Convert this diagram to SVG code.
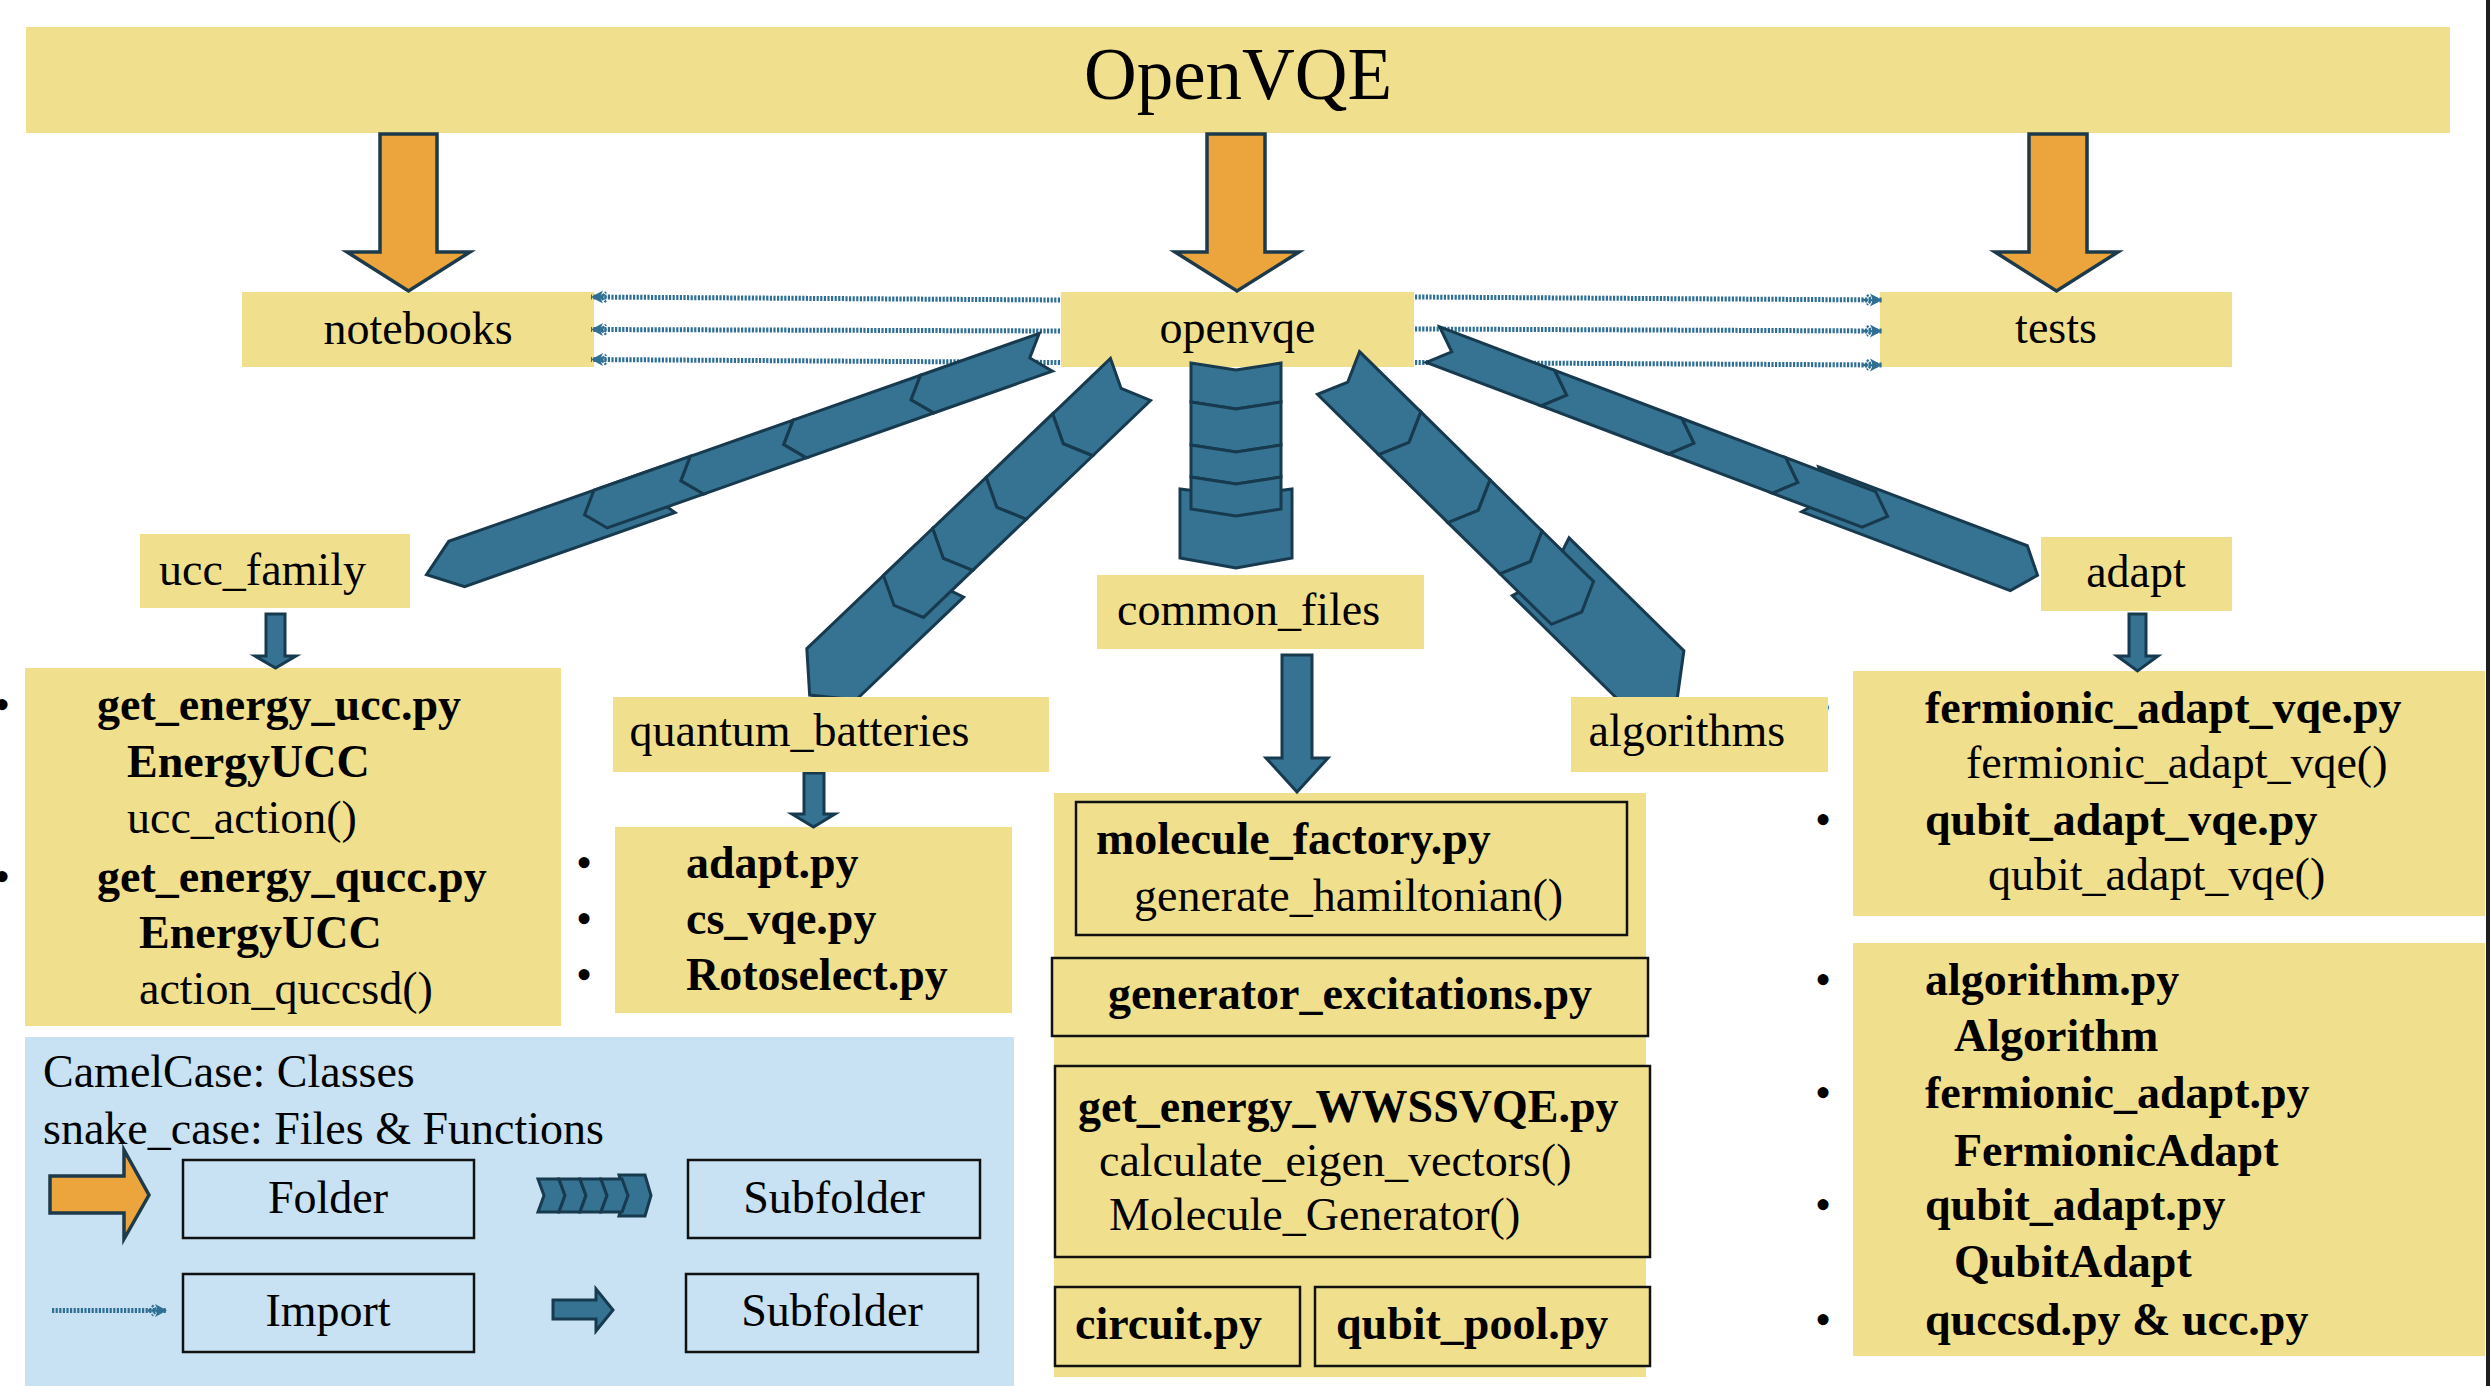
<svg xmlns="http://www.w3.org/2000/svg" width="2490" height="1386" viewBox="0 0 2490 1386">
<style>
.t{font-family:"Liberation Serif","Times New Roman",serif;font-size:46px;fill:#000}
.b{font-weight:bold}
.m{text-anchor:middle}
.k{fill:#F0E08E}
.kb{fill:#F0E08E;stroke:#111;stroke-width:2.5}
.lb{fill:none;stroke:#111;stroke-width:2.5}
.or{fill:#ECA43C;stroke:#1C3A4A;stroke-width:3.5;stroke-linejoin:miter}
.bl{fill:#367292;stroke:#173A4E;stroke-width:3;stroke-linejoin:miter}
.imp{fill:none;stroke:#2F6F94;stroke-width:5;stroke-dasharray:2.2 1.4}
</style>
<defs>
<marker id="ih" viewBox="0 0 20 16" refX="19" refY="8" markerWidth="20" markerHeight="16" markerUnits="userSpaceOnUse" orient="auto">
<path d="M19,8 L7,1.5 L10,8 L7,14.5 Z" fill="#2F6F94"/>
<path d="M0,8 L12,8 M4,3 L9,8 L4,13" fill="none" stroke="#2F6F94" stroke-width="2.5" stroke-dasharray="2 1.2"/>
</marker>
</defs>
<rect x="0" y="0" width="2490" height="1386" fill="#fff"/>
<rect x="2486" y="0" width="4" height="1386" fill="#1e1e1e"/>

<g id="node-openvqe-root">
<rect class="k" x="26" y="27" width="2424" height="106"/>
<text class="t m" x="1238" y="99" style="font-size:73px">OpenVQE</text>
</g>
<g id="node-notebooks">
<rect class="k" x="242" y="292" width="352" height="75"/>
<text class="t m" x="418" y="344">notebooks</text>
</g>
<g id="node-openvqe">
<rect class="k" x="1061" y="292" width="353" height="75"/>
<text class="t m" x="1237.5" y="343">openvqe</text>
</g>
<g id="node-tests">
<rect class="k" x="1880" y="292" width="352" height="75"/>
<text class="t m" x="2056" y="343">tests</text>
</g>

<g id="node-ucc-files">
<rect class="k" x="25" y="668" width="536" height="358"/>
<text class="t" x="2" y="720" text-anchor="middle">•</text>
<text class="t" x="2" y="892" text-anchor="middle">•</text>
<text class="t b" x="97" y="720">get_energy_ucc.py</text>
<text class="t b" x="127" y="777">EnergyUCC</text>
<text class="t" x="127" y="833">ucc_action()</text>
<text class="t b" x="97" y="892">get_energy_qucc.py</text>
<text class="t b" x="139" y="948">EnergyUCC</text>
<text class="t" x="139" y="1004">action_quccsd()</text>
</g>
<g id="node-qb-files">
<rect class="k" x="615" y="827" width="397" height="186"/>
<text class="t m" x="584" y="878">•</text>
<text class="t m" x="584" y="934">•</text>
<text class="t m" x="584" y="990">•</text>
<text class="t b" x="686" y="878">adapt.py</text>
<text class="t b" x="686" y="934">cs_vqe.py</text>
<text class="t b" x="686" y="990">Rotoselect.py</text>
</g>
<g id="node-common-files-content">
<rect class="k" x="1054" y="793" width="592" height="584"/>
<rect class="kb" x="1076" y="802" width="551" height="133"/>
<text class="t b" x="1096" y="854">molecule_factory.py</text>
<text class="t" x="1134" y="911">generate_hamiltonian()</text>
<rect class="kb" x="1052" y="958" width="596" height="78"/>
<text class="t b m" x="1350" y="1009">generator_excitations.py</text>
<rect class="kb" x="1055" y="1066" width="595" height="191"/>
<text class="t b" x="1078" y="1122">get_energy_WWSSVQE.py</text>
<text class="t" x="1099" y="1176">calculate_eigen_vectors()</text>
<text class="t" x="1109" y="1230">Molecule_Generator()</text>
<rect class="kb" x="1055" y="1287" width="245" height="79"/>
<text class="t b" x="1075" y="1339">circuit.py</text>
<rect class="kb" x="1315" y="1287" width="335" height="79"/>
<text class="t b" x="1336" y="1339">qubit_pool.py</text>
</g>
<g id="node-adapt-files">
<rect class="k" x="1853" y="671" width="632" height="245"/>
<text class="t m" x="1823" y="723">•</text>
<text class="t m" x="1823" y="835">•</text>
<text class="t b" x="1925" y="723">fermionic_adapt_vqe.py</text>
<text class="t" x="1966" y="778">fermionic_adapt_vqe()</text>
<text class="t b" x="1925" y="835">qubit_adapt_vqe.py</text>
<text class="t" x="1988" y="890">qubit_adapt_vqe()</text>
</g>
<g id="node-algorithms-files">
<rect class="k" x="1853" y="943" width="632" height="413"/>
<text class="t m" x="1823" y="995">•</text>
<text class="t m" x="1823" y="1108">•</text>
<text class="t m" x="1823" y="1220">•</text>
<text class="t m" x="1823" y="1335">•</text>
<text class="t b" x="1925" y="995">algorithm.py</text>
<text class="t b" x="1954" y="1051">Algorithm</text>
<text class="t b" x="1925" y="1108">fermionic_adapt.py</text>
<text class="t b" x="1954" y="1166">FermionicAdapt</text>
<text class="t b" x="1925" y="1220">qubit_adapt.py</text>
<text class="t b" x="1954" y="1277">QubitAdapt</text>
<text class="t b" x="1925" y="1335">quccsd.py &amp; ucc.py</text>
</g>
<g id="node-legend">
<rect x="25" y="1037" width="989" height="349" fill="#C8E2F3"/>
<text class="t" x="43" y="1087">CamelCase: Classes</text>
<text class="t" x="43" y="1144">snake_case: Files &amp; Functions</text>
<polygon class="or" points="50,1176 124,1176 124,1150 149,1195 124,1239 124,1213 50,1213"/>
<rect class="lb" x="183" y="1160" width="291" height="78"/>
<text class="t m" x="328" y="1213">Folder</text>
<polygon class="bl" points="619,1175 645,1175 651,1195.5 645,1216 619,1216 625,1195.5"/>
<polygon class="bl" points="538,1179 559,1179 565,1195.5 559,1212 538,1212 544,1195.5"/>
<polygon class="bl" points="559,1179 580,1179 586,1195.5 580,1212 559,1212 565,1195.5"/>
<polygon class="bl" points="580,1179 601,1179 607,1195.5 601,1212 580,1212 586,1195.5"/>
<polygon class="bl" points="601,1179 622,1179 628,1195.5 622,1212 601,1212 607,1195.5"/>
<rect class="lb" x="688" y="1160" width="292" height="78"/>
<text class="t m" x="834" y="1213">Subfolder</text>
<path class="imp" d="M52,1310.5 L167,1310.5" marker-end="url(#ih)"/>
<rect class="lb" x="183" y="1274" width="291" height="78"/>
<text class="t m" x="328" y="1326">Import</text>
<polygon class="bl" points="553,1300 596,1300 596,1289 613,1310 596,1331 596,1319 553,1319"/>
<rect class="lb" x="686" y="1274" width="292" height="78"/>
<text class="t m" x="832" y="1326">Subfolder</text>
</g>

<g id="connectors">
<path class="imp" d="M1060,300 L591,297" marker-end="url(#ih)"/>
<path class="imp" d="M1060,331 L591,329.5" marker-end="url(#ih)"/>
<path class="imp" d="M1060,362.5 L591,359.5" marker-end="url(#ih)"/>
<path class="imp" d="M1415,297 L1882,300" marker-end="url(#ih)"/>
<path class="imp" d="M1415,329 L1882,331" marker-end="url(#ih)"/>
<path class="imp" d="M1415,362.5 L1882,365" marker-end="url(#ih)"/>

<polygon class="or" points="380,134 437,134 437,252 470,252 408.5,291 347,252 380,252"/>
<polygon class="or" points="1207,134 1265,134 1265,252 1299,252 1237,291 1175,252 1207,252"/>
<polygon class="or" points="2029,134 2087,134 2087,252 2118,252 2056.5,291 1995,252 2029,252"/>

<g transform="translate(1045.8,352.3) rotate(160.6)">
<polygon class="bl" points="403,-28 626,-28 658,-4 626,20 403,20 420,-4"/>
<polygon class="bl" points="0,-20 126,-20 143,0 126,20 0,20 17,0"/>
<polygon class="bl" points="126,-20 261,-20 278,0 261,20 126,20 143,0"/>
<polygon class="bl" points="261,-20 370,-20 387,0 370,20 261,20 278,0"/>
<polygon class="bl" points="370,-20 472,-20 489,0 472,20 370,20 387,0"/>
</g>
<g transform="translate(1130.5,379.5) rotate(136.3)">
<polygon class="bl" points="271,-42 420,-42 450,-6.5 420,29 271,29 284,-6.5"/>
<polygon class="bl" points="0,-29 80,-29 93,0 80,29 0,29 13,0"/>
<polygon class="bl" points="80,-29 172,-29 185,0 172,29 80,29 93,0"/>
<polygon class="bl" points="172,-29 246,-29 259,0 246,29 172,29 185,0"/>
<polygon class="bl" points="246,-29 314,-29 327,0 314,29 246,29 259,0"/>
</g>
<g transform="translate(1236,363) rotate(90)">
<polygon class="bl" points="126,-56 195,-56 205,0 195,56 126,56 133,0"/>
<polygon class="bl" points="0,-45 39,-45 46,0 39,45 0,45 7,0"/>
<polygon class="bl" points="39,-45 82,-45 89,0 82,45 39,45 46,0"/>
<polygon class="bl" points="82,-45 114,-45 121,0 114,45 82,45 89,0"/>
<polygon class="bl" points="114,-45 146,-45 153,0 146,45 114,45 121,0"/>
</g>
<g transform="translate(1338.5,373) rotate(44.5)">
<polygon class="bl" points="280,-44 441,-44 471,-3.5 441,37 280,37 293,-3.5"/>
<polygon class="bl" points="0,-30 86,-30 99,0 86,30 0,30 13,0"/>
<polygon class="bl" points="86,-30 183,-30 196,0 183,30 86,30 99,0"/>
<polygon class="bl" points="183,-30 256,-30 269,0 256,30 183,30 196,0"/>
<polygon class="bl" points="256,-30 328,-30 341,0 328,30 256,30 269,0"/>
</g>
<g transform="translate(1433,344.7) rotate(20.7)">
<polygon class="bl" points="404,-22 627,-22 647,2 627,26 404,26 424,2"/>
<polygon class="bl" points="0,-19 123,-19 143,0 123,19 0,19 20,0"/>
<polygon class="bl" points="123,-19 259,-19 279,0 259,19 123,19 143,0"/>
<polygon class="bl" points="259,-19 370,-19 390,0 370,19 259,19 279,0"/>
<polygon class="bl" points="370,-19 466,-19 486,0 466,19 370,19 390,0"/>
</g>

<polygon class="bl" points="266,614 285,614 285,656 296,656 275.5,668 255,656 266,656"/>
<polygon class="bl" points="804,773 824,773 824,814 835,814 813.5,827 792,814 804,814"/>
<polygon class="bl" points="1282,655 1312,655 1312,758 1328,758 1297,792 1266,758 1282,758"/>
<polygon class="bl" points="2129,614 2146,614 2146,656 2158,656 2137.5,671 2117,656 2129,656"/>
</g>

<g id="node-ucc_family">
<rect class="k" x="140" y="534" width="270" height="74"/>
<text class="t" x="159" y="585">ucc_family</text>
</g>
<g id="node-quantum_batteries">
<rect class="k" x="613" y="697" width="436" height="75"/>
<text class="t" x="629.5" y="746">quantum_batteries</text>
</g>
<g id="node-common_files">
<rect class="k" x="1097" y="575" width="327" height="74"/>
<text class="t" x="1117" y="625">common_files</text>
</g>
<g id="node-algorithms">
<rect class="k" x="1571" y="697" width="257" height="75"/>
<text class="t" x="1588.5" y="746">algorithms</text>
</g>
<g id="node-adapt">
<rect class="k" x="2041" y="537" width="191" height="74"/>
<text class="t m" x="2136" y="587">adapt</text>
</g>
</svg>
